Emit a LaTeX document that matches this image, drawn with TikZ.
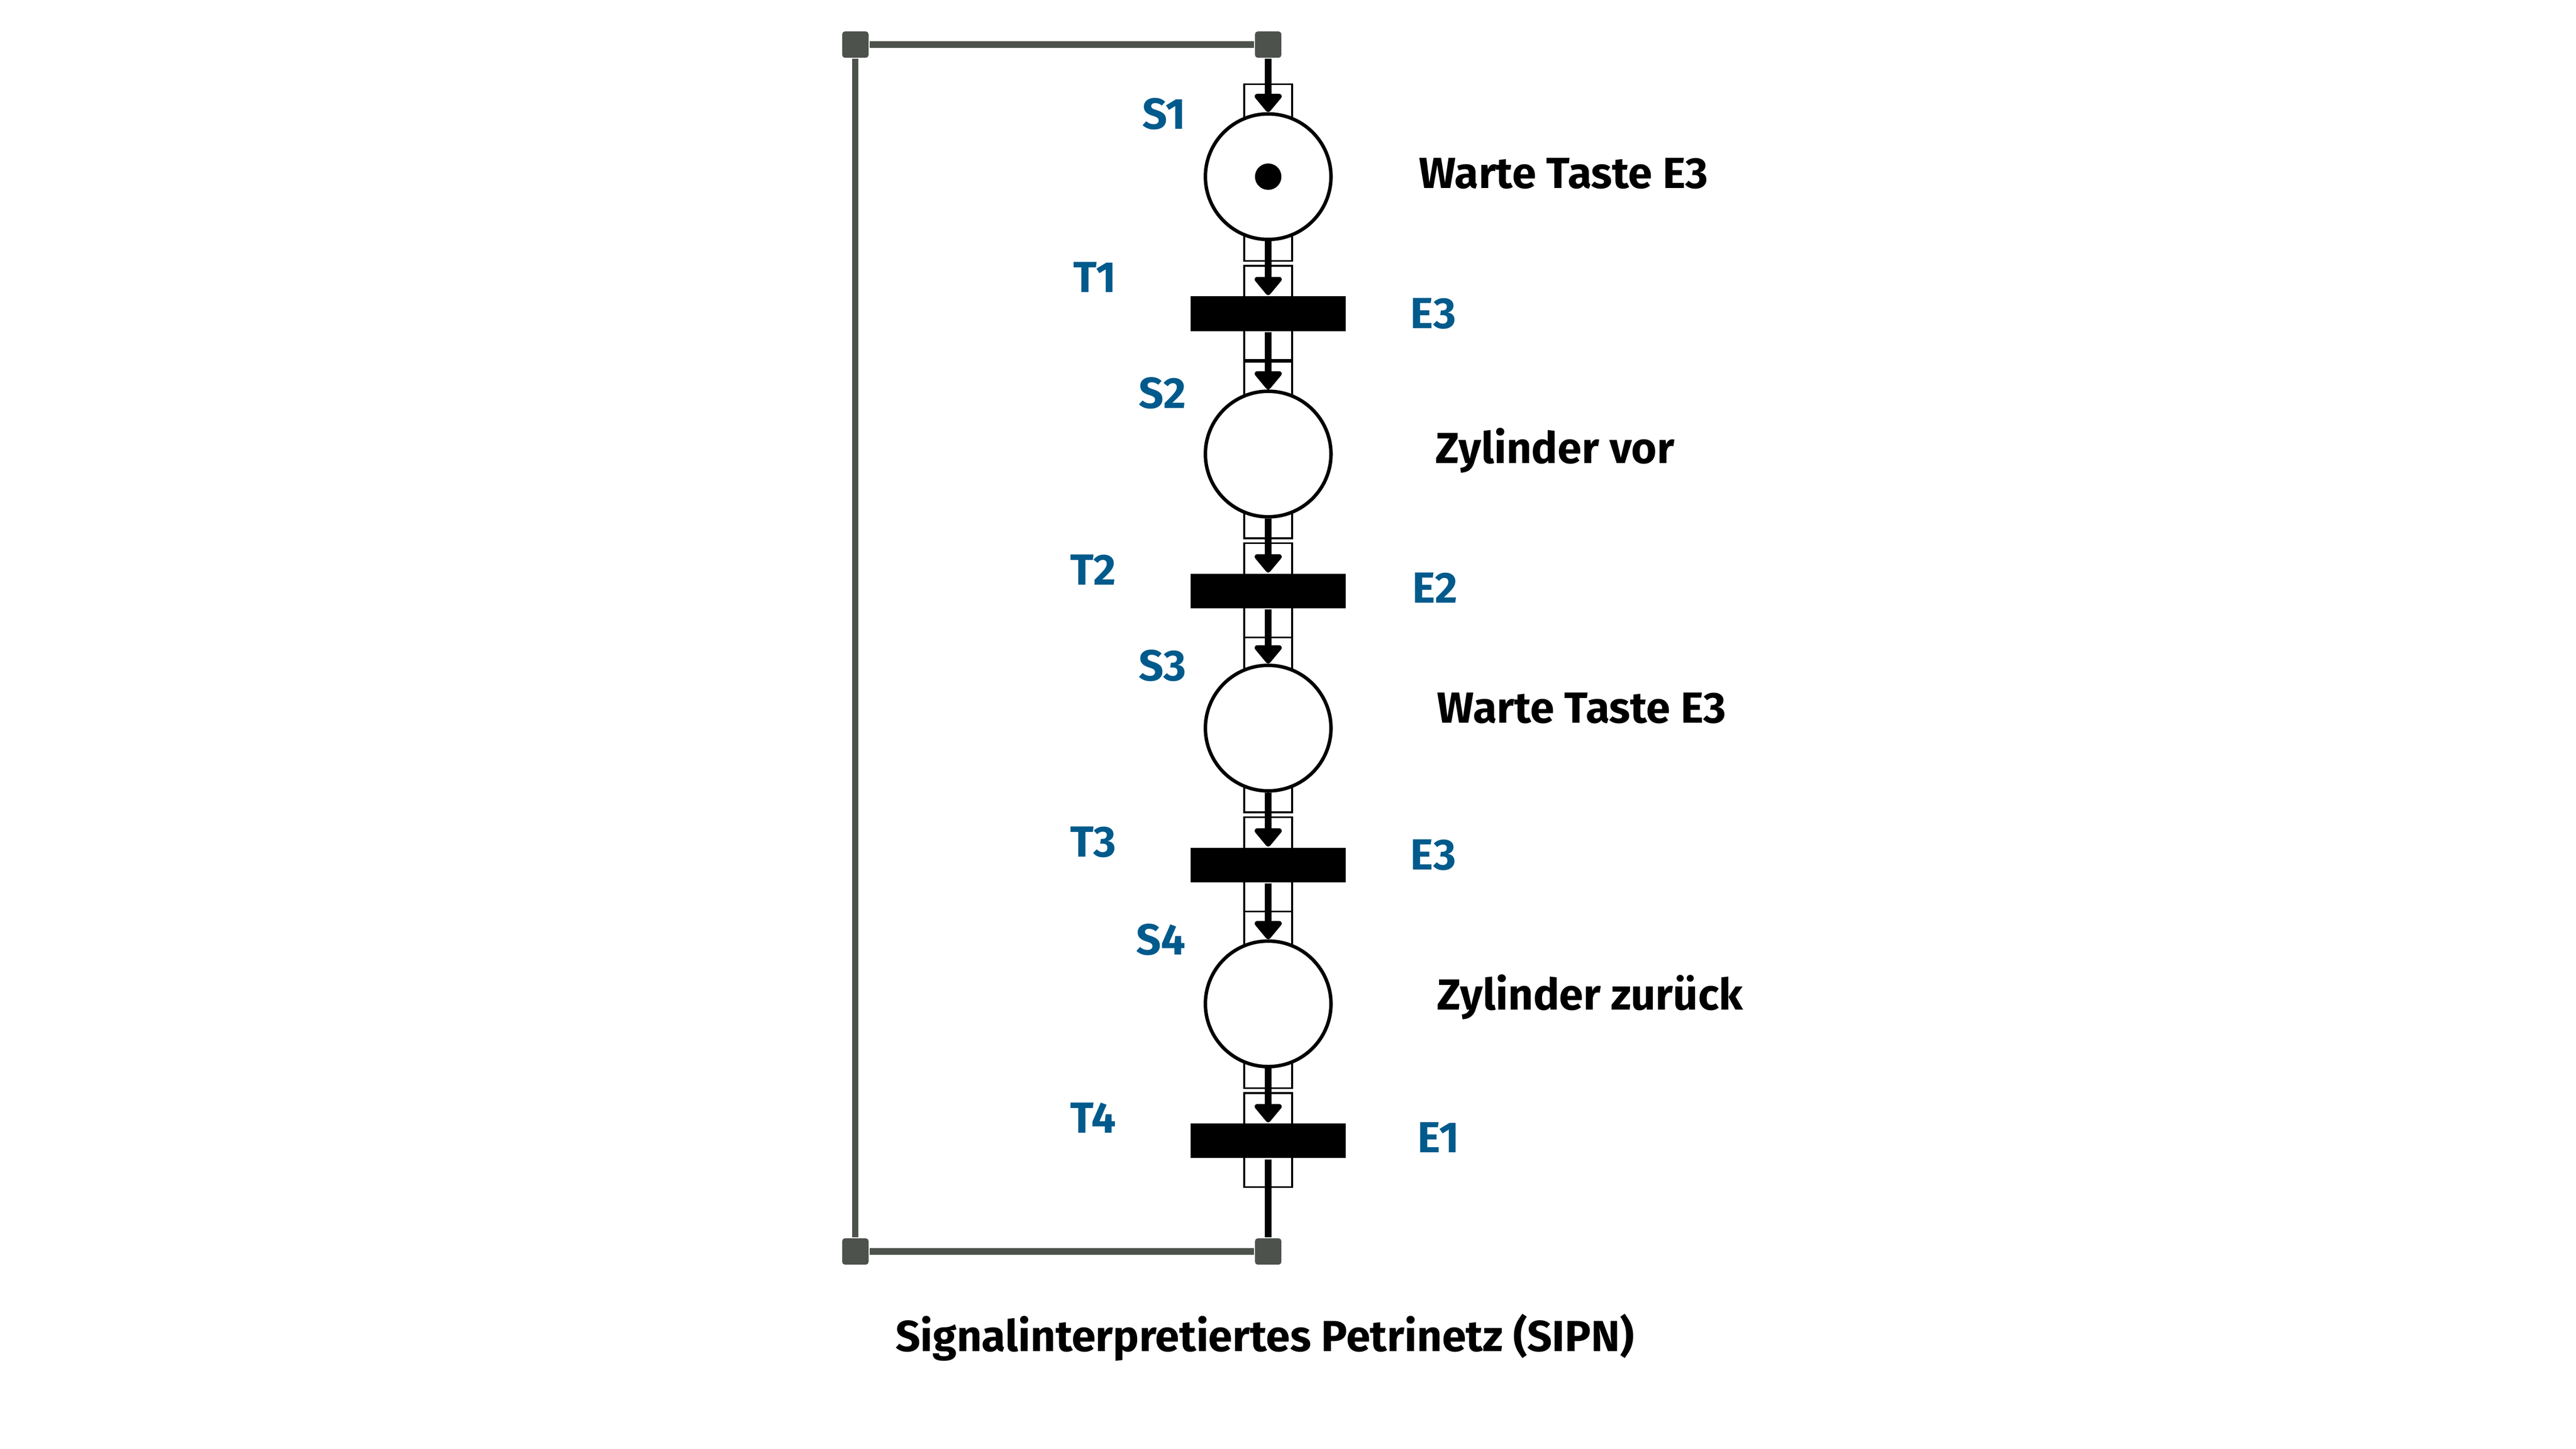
\documentclass[tikz,border=0pt]{standalone}
\usepackage{fontspec}
\setmainfont{Fira Sans}
\usetikzlibrary{arrows.meta,calc}
\definecolor{lblue}{HTML}{005A8C}
\definecolor{fgray}{HTML}{4D524D}
\tikzset{
 place/.style={circle,draw,line width=0.6pt,fill=white,minimum size=0.76cm,inner sep=0},
 trans/.style={rectangle,fill=black,minimum width=0.94cm,minimum height=0.21cm,inner sep=0},
 corner/.style={rectangle,fill=fgray,minimum size=0.16cm,inner sep=0,rounded corners=0.5pt},
 frame/.style={draw=fgray,line width=1.1pt},
 arc/.style={line width=1.2pt,-{Triangle[width=0.19cm,length=0.12cm,round]}},
 pbox/.style={draw,line width=0.3pt,fill=white,minimum width=0.29cm,minimum height=0.2cm,inner sep=0},
 lab/.style={text=lblue,font=\bfseries\fontsize{7.5}{8}\selectfont},
 txt/.style={font=\bfseries\fontsize{7.5}{8}\selectfont,anchor=west},
}
\begin{document}
\begin{tikzpicture}[x=0.01cm,y=-0.01cm]
\useasboundingbox (0,0) rectangle (1560,877.5);
\foreach \y/\r in {107/38,275/38,441/38,608/38}{
  \node[pbox] at (768,\y-\r-8) {};
  \node[pbox] at (768,\y+\r+3) {};
}
\foreach \y in {190,358,524,691}{
  \node[pbox] at (768,\y-19) {};
  \node[pbox] at (768,\y+18) {};
}
\node[place] (S1) at (768,107) {};
\fill (768,107) circle (0.08cm);
\node[trans] (T1) at (768,190) {};
\node[place] (S2) at (768,275) {};
\node[trans] (T2) at (768,358) {};
\node[place] (S3) at (768,441) {};
\node[trans] (T3) at (768,524) {};
\node[place] (S4) at (768,608) {};
\node[trans] (T4) at (768,691) {};
\node[corner] (C1) at (768,27) {};
\node[corner] (C2) at (518,27) {};
\node[corner] (C3) at (518,758) {};
\node[corner] (C4) at (768,758) {};
\draw[frame] (C4) -- (C3) -- (C2) -- (C1);
\draw[arc] (C1) -- (S1);
\draw[arc] (S1) -- (T1);
\draw[arc] (T1) -- (S2);
\draw[arc] (S2) -- (T2);
\draw[arc] (T2) -- (S3);
\draw[arc] (S3) -- (T3);
\draw[arc] (T3) -- (S4);
\draw[arc] (S4) -- (T4);
\draw[line width=1.2pt] (T4) -- (C4);
\node[lab] (lS1) at (705,69) {S1};
\node[lab] (lS2) at (704,238) {S2};
\node[lab] (lS3) at (704,403) {S3};
\node[lab] (lS4) at (703,569) {S4};
\node[lab] (lT1) at (663,168) {T1};
\node[lab] (lT2) at (662,345) {T2};
\node[lab] (lT3) at (662,510) {T3};
\node[lab] (lT4) at (662,677) {T4};
\node[lab] (lE1) at (868,190) {E3};
\node[lab] (lE2) at (869,356) {E2};
\node[lab] (lE3) at (868,518) {E3};
\node[lab] (lE4) at (871,689) {E1};
\node[txt] (a1) at (847,105) {Warte Taste E3};
\node[txt] (a2) at (857,273) {Zylinder vor};
\node[txt] (a3) at (858,429) {Warte Taste E3};
\node[txt] (a4) at (858,604) {Zylinder zurück};
\node[font=\bfseries\fontsize{7.5}{8}\selectfont] (cap) at (766,810) {Signalinterpretiertes Petrinetz (SIPN)};
\end{tikzpicture}
\end{document}
